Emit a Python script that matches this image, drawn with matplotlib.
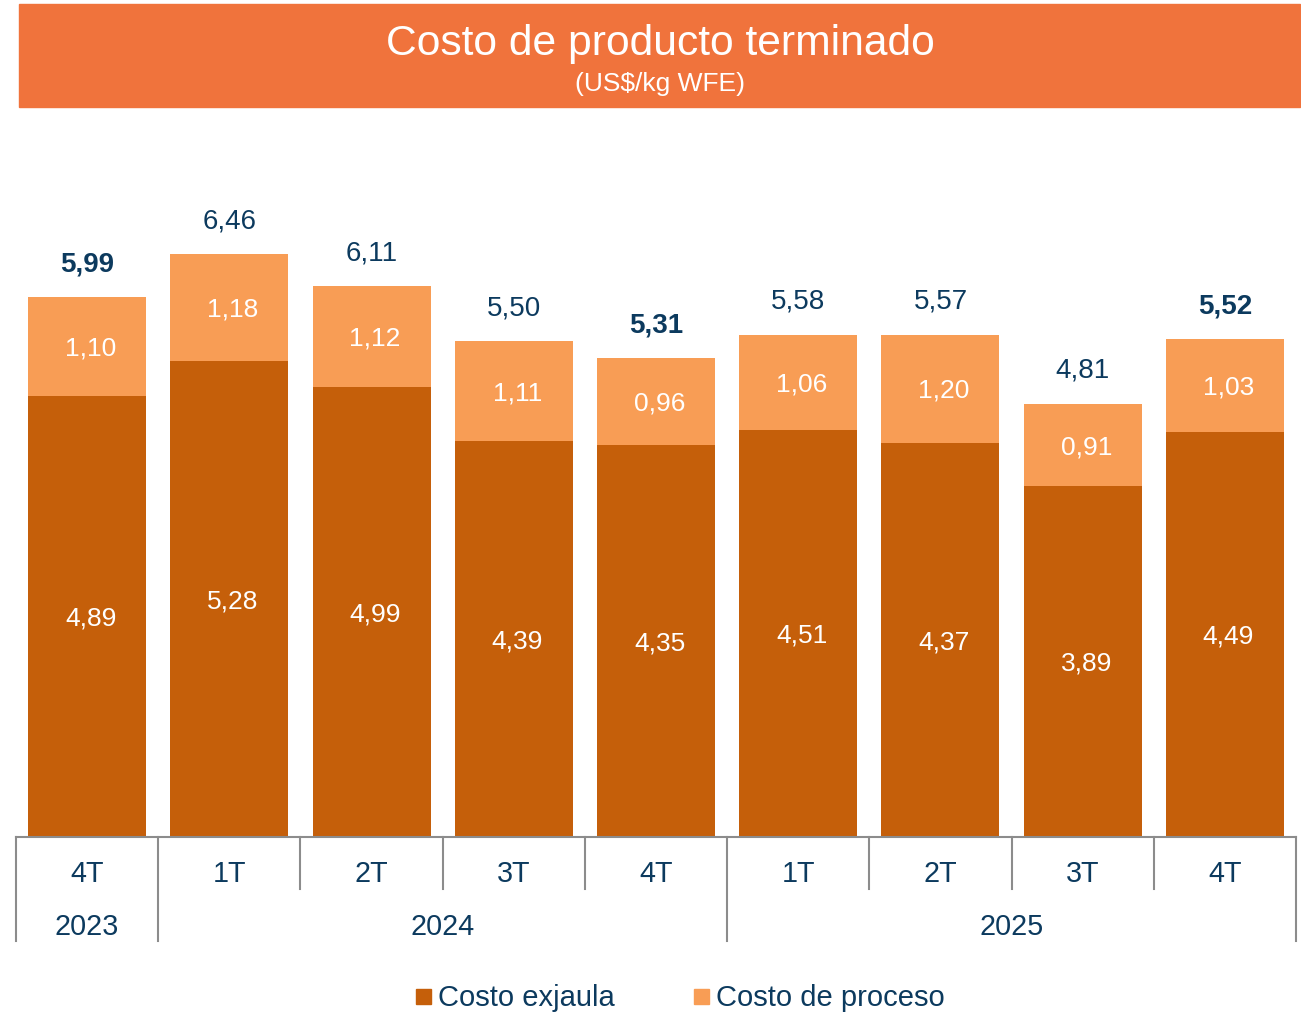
import matplotlib
matplotlib.use("Agg")
import matplotlib.pyplot as plt
from matplotlib.patches import Rectangle

plt.rcParams['font.family'] = ['Liberation Sans', 'DejaVu Sans']

# datos
trimestres = ["4T", "1T", "2T", "3T", "4T", "1T", "2T", "3T", "4T"]
anios = ["2023", "2024", "2025"]
anio_rango = [(0, 0), (1, 4), (5, 8)]
costo_exjaula = [4.89, 5.28, 4.99, 4.39, 4.35, 4.51, 4.37, 3.89, 4.49]
costo_proceso = [1.10, 1.18, 1.12, 1.11, 0.96, 1.06, 1.20, 0.91, 1.03]
totales = [5.99, 6.46, 6.11, 5.50, 5.31, 5.58, 5.57, 4.81, 5.52]
negrita = [True, False, False, False, True, False, False, False, True]

C_OSCURO = "#C55F0A"
C_CLARO = "#F89D55"
C_BANNER = "#F0733C"
C_TEXTO = "#0C3A5E"
C_LINEA = "#8C8C8C"

W, H = 1301, 1013
fig = plt.figure(figsize=(W / 100, H / 100), dpi=100)

# banner del titulo
fig.patches.append(Rectangle((19 / W, 1 - 107 / H), (1300 - 19) / W, 103 / H,
                             transform=fig.transFigure, color=C_BANNER, zorder=0))
fig.text(660 / W, 1 - 44 / H, "Costo de producto terminado", color="white",
         fontsize=30.7, ha="center", va="center")
fig.text(660 / W, 1 - 84 / H, "(US$/kg WFE)", color="white",
         fontsize=19, ha="center", va="center")

ax = fig.add_axes([16 / W, (H - 837) / H, 1280 / W, 721.6 / H])
x = list(range(len(trimestres)))
ax.bar(x, costo_exjaula, width=0.83, color=C_OSCURO)
ax.bar(x, costo_proceso, width=0.83, bottom=costo_exjaula, color=C_CLARO)
ax.set_xlim(-0.5, 8.5)
ax.set_ylim(0, 8)
ax.axis("off")

for i in x:
    ax.text(i + 0.025, costo_exjaula[i] / 2 - 0.025, f"{costo_exjaula[i]:.2f}".replace(".", ","),
            color="white", fontsize=19, ha="center", va="center")
    ax.text(i + 0.025, costo_exjaula[i] + costo_proceso[i] / 2 - 0.025,
            f"{costo_proceso[i]:.2f}".replace(".", ","),
            color="white", fontsize=19, ha="center", va="center")
    ax.annotate(f"{totales[i]:.2f}".replace(".", ","), (i, totales[i]),
                xytext=(0, 23.5), textcoords="offset points", ha="center", va="center",
                fontsize=20, color=C_TEXTO, fontweight="bold" if negrita[i] else "normal")

# eje de categorias
ax.plot([-0.5, 8.5], [0, 0], color=C_LINEA, lw=1.5, clip_on=False)
bordes_anio = [-0.5] + [r[1] + 0.5 for r in anio_rango]
for b in [i + 0.5 for i in x[:-1]]:
    largo = -1.153 if b in bordes_anio else -0.576
    ax.plot([b, b], [0, largo], color=C_LINEA, lw=1.5, clip_on=False)
for b in [-0.5, 8.5]:
    ax.plot([b, b], [0, -1.153], color=C_LINEA, lw=1.5, clip_on=False)

for i, t in enumerate(trimestres):
    ax.text(i, -0.415, t, color=C_TEXTO, fontsize=20.7, ha="center", va="center")
for a, (i0, i1) in zip(anios, anio_rango):
    ax.text((i0 + i1) / 2, -1.0, a, color=C_TEXTO, fontsize=20.7, ha="center", va="center")

# leyenda
for xs, col, lab in [(416, C_OSCURO, "Costo exjaula"), (694, C_CLARO, "Costo de proceso")]:
    fig.patches.append(Rectangle((xs / W, 1 - 1004 / H), 15 / W, 15 / H,
                                 transform=fig.transFigure, color=col))
    fig.text((xs + 22) / W, 1 - 998 / H, lab, color=C_TEXTO, fontsize=21,
             ha="left", va="center")

fig.savefig("out.png", dpi=100)
